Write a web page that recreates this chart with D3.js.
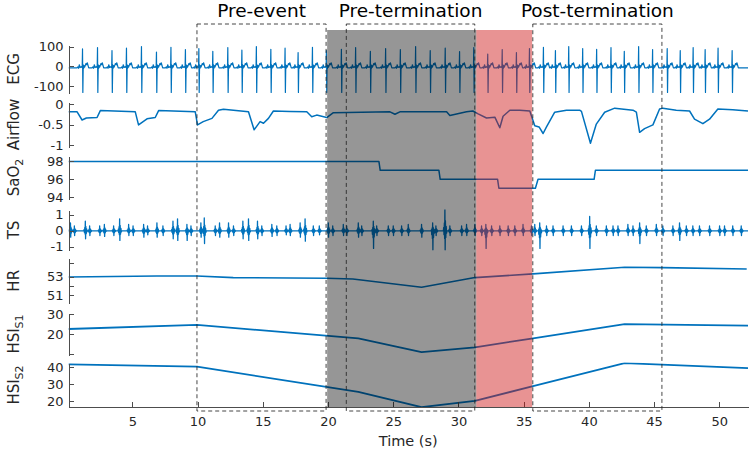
<!DOCTYPE html>
<html lang="en">
<head>
<meta charset="utf-8">
<title>Pre-event / Pre-termination / Post-termination</title>
<script src="https://cdn.jsdelivr.net/npm/d3@7/dist/d3.min.js"></script>
<style>
  body { margin: 0; background: #fff; }
  svg { display: block; font-family: "DejaVu Sans", sans-serif; }
  .axis path, .axis line { stroke: #4d4d4d; shape-rendering: crispEdges; }
  .axis text { fill: #262626; font-size: 13px; font-family: "DejaVu Sans", sans-serif; }
  .sig { fill: none; stroke: #0072bd; stroke-linejoin: round; }
  .ylab { fill: #262626; font-size: 15px; }
  .title { fill: #000; font-size: 18.5px; text-anchor: middle; }
</style>
</head>
<body>
<svg id="chart" width="750" height="453"></svg>
<script>
// ---- data (time in seconds) ----
const xTicks = [5, 10, 15, 20, 25, 30, 35, 40, 45, 50];

// ECG : R-peak times, R amplitude per beat, and one beat shape (offset s, value)
const ecgBeatT = [1.20, 2.35, 3.46, 4.57, 5.72, 6.87, 7.98, 9.09, 10.12, 11.19,
  12.34, 13.42, 14.53, 15.64, 16.73, 17.73, 18.83, 19.90, 21.05, 22.14,
  23.27, 24.44, 25.57, 26.74, 27.86, 29.01, 30.11, 31.20, 32.27, 33.38,
  34.47, 35.47, 36.54, 37.46, 38.48, 39.55, 40.62, 41.72, 42.74, 43.84,
  44.91, 46.03, 47.03, 48.02, 48.94, 49.93, 51.01];
const ecgRAmp = [88, 95, 80, 92, 100, 72, 96, 85, 90, 76,
  95, 82, 100, 86, 92, 70, 96, 80, 86, 95,
  76, 90, 85, 100, 80, 92, 75, 95, 62, 85,
  70, 90, 96, 80, 100, 90, 86, 95, 76, 100,
  85, 90, 80, 95, 85, 92, 80];
const ecgWaveT = [-0.45, -0.38, -0.33, -0.27, -0.21, -0.12, -0.05, -0.025, 0, 0.03, 0.06, 0.1, 0.14, 0.24, 0.3, 0.34, 0.45];
const ecgWaveV = [-8, -3, -10, 8, -6, -2, -6, 90, -132, 8, -10, 4, -4, 14, 8, 18, -8];
const ecgRIndex = 7;

// Airflow
const airT = [0.1, 0.76, 1.14, 1.47, 2.29, 2.54, 5.22, 5.47, 6.12, 6.75, 7.01, 9.82, 9.99, 10.43,
  11.10, 11.60, 11.98, 13.90, 14.33, 14.79, 15.05, 15.43, 15.81, 17.09, 18.37, 18.75, 19.13,
  19.90, 20.41, 24.75, 25.13, 25.51, 29.09, 29.34, 30.62, 31.10, 31.51, 32.15, 32.79, 33.17,
  33.42, 33.94, 34.70, 35.47, 35.85, 36.18, 36.49, 36.75, 37.38, 38.28, 39.29, 39.43, 40.12,
  40.57, 41.21, 41.98, 43.38, 43.64, 43.89, 44.27, 44.91, 45.42, 45.67, 46.70, 47.72, 48.10,
  48.74, 49.25, 49.89, 51.03, 52.2];
const airV = [-0.19, -0.19, -0.39, -0.34, -0.33, -0.16, -0.19, -0.51, -0.36, -0.33, -0.16, -0.19, -0.51, -0.43,
  -0.35, -0.15, -0.13, -0.19, -0.63, -0.43, -0.47, -0.35, -0.17, -0.18, -0.19, -0.31, -0.27,
  -0.33, -0.21, -0.19, -0.25, -0.19, -0.19, -0.28, -0.19, -0.17, -0.24, -0.34, -0.32, -0.58,
  -0.30, -0.15, -0.15, -0.17, -0.53, -0.56, -0.72, -0.56, -0.20, -0.15, -0.15, -0.18, -0.96,
  -0.49, -0.20, -0.10, -0.15, -0.20, -0.69, -0.60, -0.51, -0.12, -0.10, -0.15, -0.17, -0.37,
  -0.48, -0.37, -0.12, -0.14, -0.17];

// SaO2 (steps)
const sao2T = [0.1, 23.9, 24.0, 28.5, 28.6, 33.0, 33.1, 35.9, 36.1, 40.4, 40.5, 52.2];
const sao2V = [98, 98, 97, 97, 96, 96, 95, 95, 96, 96, 97, 97];

// TS : burst times, upward and downward extent
const tsT = [0.25, 0.55, 1.39, 1.72, 2.49, 2.85, 3.56, 4.02, 4.71, 5.05, 5.86, 6.16, 6.88, 7.34,
  8.11, 8.46, 9.18, 9.49, 10.25, 10.51, 11.35, 11.68, 12.37, 12.75, 13.47, 13.90, 14.59, 14.92,
  15.69, 16.07, 16.78, 17.09, 17.86, 18.24, 18.87, 19.33, 20.02, 20.36, 21.17, 21.43, 22.32,
  22.58, 23.47, 23.73, 24.62, 25.00, 25.64, 26.15, 27.17, 28.02, 28.27, 28.96, 29.34, 30.24,
  30.62, 31.26, 31.77, 32.10, 32.54, 33.17, 33.81, 34.32, 34.95, 35.60, 35.85, 36.23, 36.75,
  37.25, 38.02, 38.66, 39.43, 40.06, 40.57, 41.34, 41.85, 42.23, 42.99, 43.38, 43.89, 44.40,
  45.17, 45.67, 46.44, 46.95, 47.47, 47.97, 48.48, 49.25, 50.02, 50.40, 51.03, 51.68];
const tsUp = [0.5, 0.3, 0.6, 0.3, 0.3, 0.4, 0.3, 0.75, 0.4, 0.3, 0.4, 0.3, 0.5, 0.3,
  0.6, 0.75, 0.4, 0.3, 0.5, 0.8, 0.3, 0.5, 0.5, 0.3, 0.6, 0.75, 0.6, 0.3,
  0.4, 0.3, 0.3, 0.4, 0.5, 0.75, 0.3, 0.3, 0.5, 0.3, 0.4, 0.3, 0.5,
  0.3, 0.6, 0.3, 0.3, 0.3, 0.3, 0.4, 0.4, 0.5, 0.3, 1.4, 0.3, 0.3,
  0.4, 0.4, 0.3, 0.4, 0.3, 0.3, 0.3, 0.3, 0.4, 0.3, 0.4, 0.5, 0.3,
  0.3, 0.3, 0.3, 0.3, 0.9, 0.3, 0.3, 0.3, 0.3, 0.4, 0.3, 0.5, 0.3,
  0.4, 0.3, 0.3, 0.5, 0.3, 0.3, 0.3, 0.3, 0.3, 0.3, 0.3, 0.3];
const tsDown = [0.4, 0.3, 0.5, 0.3, 0.3, 0.35, 0.3, 0.6, 0.3, 0.3, 0.4, 0.25, 0.4, 0.3,
  0.5, 0.6, 0.6, 0.3, 0.4, 0.8, 0.3, 0.4, 0.4, 0.3, 0.5, 0.6, 0.5, 0.3,
  0.35, 0.3, 0.25, 0.3, 0.4, 0.65, 0.3, 0.25, 0.4, 0.3, 0.3, 0.3, 0.4,
  0.3, 1.1, 0.3, 0.3, 0.3, 0.3, 0.3, 0.4, 1.2, 0.3, 1.2, 0.3, 0.3,
  0.3, 0.3, 0.3, 1.1, 0.3, 0.3, 0.3, 0.3, 0.3, 0.3, 0.3, 1.1, 0.3,
  0.3, 0.3, 0.3, 0.3, 1.1, 0.3, 0.3, 0.3, 0.3, 0.3, 0.3, 0.8, 0.3,
  0.3, 0.3, 0.3, 0.6, 0.3, 0.3, 0.3, 0.3, 0.3, 0.3, 0.3, 0.3];
const tsShapeT = [-0.12, -0.09, -0.07, -0.04, -0.02, 0, 0.02, 0.04, 0.07, 0.1, 0.13, 0.16];
const tsShapeK = [0, 0.15, -0.2, 0.35, -0.4, 1, -1, 0.45, -0.35, 0.2, -0.12, 0];

// HR
const hrT = [0.1, 6.88, 9.95, 12.73, 19.9, 21.9, 27.17, 31.26, 35.72, 42.74, 45.65, 52.1];
const hrV = [52.97, 53.08, 53.08, 52.9, 52.83, 52.75, 51.84, 52.9, 53.3, 54.03, 53.98, 53.84];

// HSI S1 / S2
const hsi1T = [0.1, 9.95, 22.32, 27.17, 31.26, 35.72, 42.74, 52.2];
const hsi1V = [22.65, 24.7, 18.0, 11.1, 13.5, 18.0, 25.1, 24.3];
const hsi2T = [0.1, 9.95, 22.32, 27.17, 31.26, 35.72, 42.74, 52.2];
const hsi2V = [41.8, 40.4, 25.4, 16.3, 20.0, 28.8, 42.5, 39.6];

// shaded periods and dashed windows [start, end]
const graySpan = [19.93, 31.37];
const redSpan = [31.37, 35.65];
const windowNames = ["Pre-event", "Pre-termination", "Post-termination"];
const windowStart = [9.95, 21.4, 35.7];
const windowEnd = [19.85, 31.25, 45.6];

// ---- layout ----
const svg = d3.select("#chart");
const x = d3.scaleLinear().domain([0.1, 52.2]).range([68.5, 748]);
const plotTop = 30, axisY = 407, boxTop = 24, boxBottom = 411;

const panels = [
  { key: "ecg", label: "ECG", top: 45, bottom: 93, domain: [-135, 108], ticks: [-100, 0, 100], width: 1.2 },
  { key: "air", label: "Airflow", top: 102, bottom: 147, domain: [-1.05, 0.05], ticks: [-1, -0.5, 0], width: 1.5 },
  { key: "sao2", label: "SaO", sub: "2", top: 156, bottom: 199, domain: [93.8, 98.6], ticks: [94, 96, 98], width: 1.5 },
  { key: "ts", label: "TS", top: 210, bottom: 250, domain: [-1.2, 1.3], ticks: [-1, 0, 1], width: 1.3 },
  { key: "hr", label: "HR", top: 258.3, bottom: 303.3, domain: [50.1, 55.0], ticks: [51, 52, 53, 54.5], shown: [51, 53], width: 1.6 },
  { key: "hsi1", label: "HSI", sub: "S1", top: 313, bottom: 355, domain: [9.65, 30.65], ticks: [10, 20, 30], shown: [20, 30], width: 1.8 },
  { key: "hsi2", label: "HSI", sub: "S2", top: 363, bottom: 407, domain: [16.4, 42.6], ticks: [20, 30, 40], width: 1.8 }
];

// build series point lists
function zipPts(ts, vs) { return ts.map((t, i) => [t, vs[i]]); }

const ecgPts = [[0.1, -8]];
ecgBeatT.forEach((tb, b) => {
  ecgWaveT.forEach((o, i) => {
    ecgPts.push([tb + o, i === ecgRIndex ? ecgRAmp[b] : ecgWaveV[i]]);
  });
});
ecgPts.push([52.2, -8]);

const tsPts = [[0.1, 0]];
tsT.forEach((t, e) => {
  tsShapeT.forEach((o, i) => {
    const k = tsShapeK[i];
    tsPts.push([t + o, k >= 0 ? k * tsUp[e] : k * tsDown[e]]);
  });
});
tsPts.push([52.2, 0]);

const series = {
  ecg: ecgPts,
  air: zipPts(airT, airV),
  sao2: zipPts(sao2T, sao2V),
  ts: tsPts,
  hr: zipPts(hrT, hrV),
  hsi1: zipPts(hsi1T, hsi1V),
  hsi2: zipPts(hsi2T, hsi2V)
};

const defs = svg.append("defs");

panels.forEach(p => {
  const y = d3.scaleLinear().domain(p.domain).range([p.bottom, p.top]);

  defs.append("clipPath").attr("id", "clip-" + p.key)
    .append("rect")
    .attr("x", x.range()[0]).attr("y", p.top - 0.5)
    .attr("width", x.range()[1] - x.range()[0]).attr("height", p.bottom - p.top + 1);

  svg.append("path")
    .attr("class", "sig")
    .attr("clip-path", `url(#clip-${p.key})`)
    .attr("stroke-width", p.width)
    .attr("d", d3.line().x(d => x(d[0])).y(d => y(d[1]))(series[p.key]));

  const shown = p.shown || p.ticks;
  svg.append("g")
    .attr("class", "axis")
    .attr("transform", `translate(${x.range()[0]},0)`)
    .call(d3.axisLeft(y).tickValues(p.ticks).tickSizeInner(-5).tickSizeOuter(0).tickPadding(5)
      .tickFormat(v => shown.includes(v) ? String(v) : ""));

  // y label, rotated, with optional subscript
  const cy = (p.top + p.bottom) / 2;
  const t = svg.append("text")
    .attr("class", "ylab")
    .attr("text-anchor", "middle")
    .attr("transform", `translate(19,${cy}) rotate(-90)`)
    .text(p.label);
  if (p.sub) {
    t.append("tspan").attr("dy", "0.35em").attr("font-size", "11px").text(p.sub);
  }
});

// x axis at bottom
svg.append("g")
  .attr("class", "axis")
  .attr("transform", `translate(0,${axisY})`)
  .call(d3.axisBottom(x).tickValues(xTicks).tickSizeInner(-5).tickSizeOuter(0).tickPadding(10));

svg.append("text")
  .attr("x", (x.range()[0] + x.range()[1]) / 2)
  .attr("y", 446)
  .attr("text-anchor", "middle")
  .attr("fill", "#262626")
  .attr("font-size", "14.5px")
  .text("Time (s)");

// shaded periods over the signals
svg.append("rect")
  .attr("x", x(graySpan[0])).attr("y", plotTop)
  .attr("width", x(graySpan[1]) - x(graySpan[0])).attr("height", axisY - plotTop)
  .attr("fill", "#000").attr("fill-opacity", 0.41);
svg.append("rect")
  .attr("x", x(redSpan[0])).attr("y", plotTop)
  .attr("width", x(redSpan[1]) - x(redSpan[0])).attr("height", axisY - plotTop)
  .attr("fill", "rgb(205,15,15)").attr("fill-opacity", 0.45);

// dashed analysis windows and their titles
windowNames.forEach((name, i) => {
  const x0 = x(windowStart[i]), x1 = x(windowEnd[i]);
  svg.append("rect")
    .attr("x", x0).attr("y", boxTop)
    .attr("width", x1 - x0).attr("height", boxBottom - boxTop)
    .attr("fill", "none").attr("stroke", "#262626").attr("stroke-width", 1)
    .attr("stroke-dasharray", "4,3").attr("opacity", 0.85);
  svg.append("text")
    .attr("class", "title")
    .attr("x", (x0 + x1) / 2)
    .attr("y", 17)
    .text(name);
});
</script>
</body>
</html>
